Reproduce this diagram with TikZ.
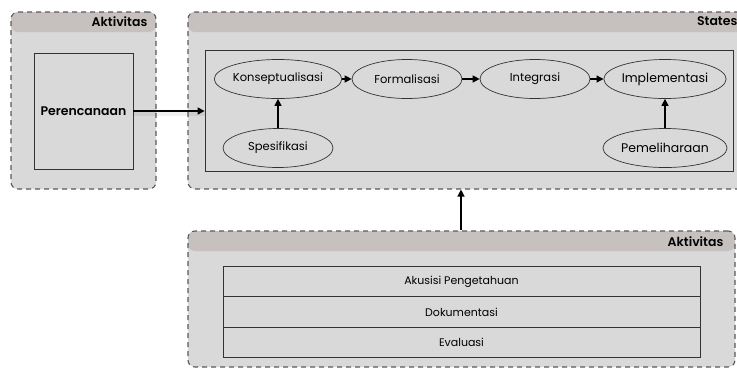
\documentclass[tikz,border=0pt]{standalone}
\usepackage{fontspec}
\setmainfont{Poppins}[BoldFont={Poppins SemiBold}]
\usetikzlibrary{arrows.meta,shapes.geometric}
\definecolor{bodygray}{HTML}{D9D9D9}
\definecolor{headgray}{HTML}{C6C1BF}
\definecolor{dashgray}{HTML}{5A5A5A}
\definecolor{linegray}{HTML}{333333}
\begin{document}
\begin{tikzpicture}[x=1pt,y=-1pt,
  container/.style={draw=dashgray, dash pattern=on 5pt off 4pt, line width=1.1pt,
    fill=bodygray, rounded corners=7pt, inner sep=0pt,
    path picture={\fill[headgray] (path picture bounding box.north west) rectangle ([yshift=-20pt]path picture bounding box.north east);}},
  headtext/.style={font=\bfseries\fontsize{12.5}{14}\selectfont, inner sep=0pt, anchor=east},
  plainbox/.style={draw=linegray, line width=0.8pt, fill=bodygray, inner sep=0pt},
  stateell/.style={ellipse, draw=linegray, line width=0.7pt, fill=bodygray, inner sep=0pt,
    minimum width=110pt, minimum height=39pt, font=\fontsize{11.5}{13}\selectfont},
  bigell/.style={stateell, font=\fontsize{12.5}{14}\selectfont},
  rowbox/.style={plainbox, minimum width=477pt, minimum height=30.5pt, font=\fontsize{11}{13}\selectfont},
  arr/.style={line width=1.3pt, -{Triangle[length=7pt,width=7pt]}}
]
\useasboundingbox (0,0) rectangle (737,368);

% containers
\node[container, minimum width=145pt, minimum height=177pt] (leftC) at (83.5,100.5) {};
\node[container, minimum width=558pt, minimum height=177pt] (statesC) at (467,100.5) {};
\node[container, minimum width=547pt, minimum height=136pt] (bottomC) at (461.5,299) {};

\node[headtext] (h1) at ([xshift=-9pt,yshift=-10pt]leftC.north east) {Aktivitas};
\node[headtext] (h2) at ([xshift=-9pt,yshift=-10pt]statesC.north east) {States};
\node[headtext] (h3) at ([xshift=-12pt,yshift=-11pt]bottomC.north east) {Aktivitas};

% left box
\node[plainbox, minimum width=99pt, minimum height=116pt, font=\bfseries\fontsize{12.5}{14}\selectfont] (per) at (83.5,111) {Perencanaan};

% inner states box
\node[plainbox, minimum width=528pt, minimum height=121pt] (inner) at (469,110.5) {};

% states
\node[stateell] (kon) at (278,79) {Konseptualisasi};
\node[stateell] (for) at (407,79) {Formalisasi};
\node[stateell] (int) at (535,79) {Integrasi};
\node[bigell] (imp) at (665,79) {Implementasi};
\node[stateell] (spe) at (278,148) {Spesifikasi};
\node[bigell] (pem) at (665,148) {Pemeliharaan};

% rows
\node[rowbox] (r1) at (461.5,281.5) {Akusisi Pengetahuan};
\node[rowbox] (r2) at (461.5,312) {Dokumentasi};
\node[rowbox] (r3) at (461.5,342.5) {Evaluasi};

% arrows
\draw[arr, preaction={draw=black, opacity=0.06, line width=4pt, transform canvas={yshift=-3pt}, -}] (per.east) -- (per.east -| inner.west);
\draw[arr] (kon) -- (for);
\draw[arr] (for) -- (int);
\draw[arr] (int) -- (imp);
\draw[arr] (spe) -- (kon);
\draw[arr] (pem) -- (imp);
\coordinate (ax) at (461,0);
\draw[arr] (bottomC.north -| ax) -- (statesC.south -| ax);
\end{tikzpicture}
\end{document}
